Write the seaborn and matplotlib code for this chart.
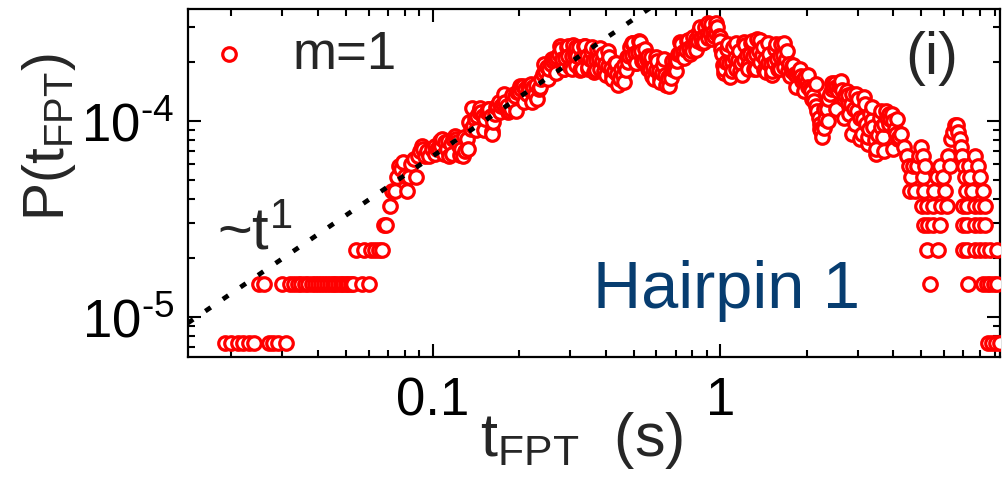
import numpy as np
import pandas as pd
import matplotlib
matplotlib.use("Agg")
import matplotlib.pyplot as plt
import seaborn as sns
from matplotlib.ticker import FixedLocator, LogLocator, NullFormatter, FuncFormatter

# First-passage-time histogram, hairpin 1, m = 1 (P in units of 1e-5)
t_short = [0.019, 0.020, 0.021, 0.022, 0.023, 0.024, 0.025, 0.026, 0.027, 0.028,
           0.029, 0.030, 0.031, 0.032, 0.033, 0.034, 0.035, 0.036, 0.037, 0.038,
           0.039, 0.040, 0.041, 0.042, 0.043, 0.044, 0.045, 0.046, 0.047, 0.048,
           0.049, 0.050, 0.051, 0.052, 0.053, 0.054, 0.057, 0.058, 0.060, 0.061,
           0.063, 0.065, 0.067]
p_short = [0.735, 0.735, 0.735, 0.735, 0.735, 0.735, 1.47, 1.47, 0.735, 0.735,
           0.735, 1.47, 0.735, 1.47, 1.47, 1.47, 1.47, 1.47, 1.47, 1.47,
           1.47, 1.47, 1.47, 1.47, 1.47, 1.47, 1.47, 1.47, 1.47, 1.47,
           1.47, 1.47, 1.47, 1.47, 1.47, 2.205, 1.47, 2.205, 1.47, 2.205,
           2.205, 2.205, 2.205]

t_rise = [0.068, 0.069, 0.0714, 0.0725, 0.0743, 0.0755, 0.0767, 0.0780, 0.0792, 0.0805,
          0.0818, 0.0831, 0.0845, 0.0859, 0.0873, 0.0887, 0.0901, 0.0916, 0.0930, 0.0945,
          0.0960, 0.0976, 0.0992, 0.1016, 0.1033, 0.1049, 0.1066, 0.1083, 0.1101, 0.1119,
          0.1137, 0.1155, 0.1174, 0.1193, 0.1212, 0.1232, 0.1252, 0.1272, 0.1292, 0.1313,
          0.1335, 0.1356, 0.1378, 0.1400, 0.1423, 0.1447, 0.1470, 0.1494, 0.1518, 0.1543,
          0.1568, 0.1593, 0.1606, 0.1619, 0.1645, 0.1672, 0.1699, 0.1727, 0.1755, 0.1783,
          0.1812, 0.1841, 0.1871, 0.1901, 0.1932, 0.1963, 0.1994, 0.2027, 0.2059, 0.2093,
          0.2127, 0.2160, 0.2196, 0.2231, 0.2268, 0.2304, 0.2340, 0.2379, 0.2418, 0.2457,
          0.2497, 0.2540, 0.2580, 0.2621, 0.2664, 0.2707, 0.2750]
p_rise = [2.94, 2.94, 3.68, 4.41, 4.41, 5.15, 5.88, 5.69, 6.17, 5.24,
          4.41, 5.15, 6.03, 6.40, 5.15, 6.62, 7.03, 7.45, 7.20, 6.62,
          7.03, 6.62, 7.20, 7.45, 7.20, 7.20, 7.45, 8.09, 7.81, 7.20,
          6.62, 7.63, 8.09, 8.38, 7.81, 7.45, 7.20, 6.62, 7.03, 8.09,
          9.87, 9.10, 9.44, 10.2, 10.6, 11.1, 11.1, 10.6, 10.2, 11.1,
          11.5, 10.6, 8.58, 9.87, 10.9, 11.9, 12.5, 11.9, 12.2, 12.5,
          11.9, 11.2, 11.5, 12.5, 13.4, 14.0, 14.0, 14.6, 15.1, 14.6,
          13.7, 14.6, 15.4, 14.9, 13.7, 12.9, 14.6, 16.4, 17.4, 18.0,
          18.8, 18.4, 19.5, 20.2, 20.7, 21.2, 22.0]

# plateau and decay: outer readings of the band
t_plateau = [0.2795, 0.2862, 0.2932, 0.3004, 0.3077, 0.3152, 0.3230, 0.3309, 0.3389, 0.3472,
             0.3557, 0.3643, 0.3732, 0.3821, 0.3914, 0.4009, 0.4110, 0.4210, 0.4313, 0.4418,
             0.4522, 0.4632, 0.4745, 0.4859, 0.4977, 0.5099, 0.5220, 0.5347, 0.5477, 0.5611,
             0.5752, 0.5891, 0.6035, 0.6180, 0.6330, 0.6484, 0.6640, 0.6802, 0.6967, 0.7137,
             0.7317, 0.7494, 0.7677, 0.7863, 0.8054, 0.8251, 0.8450, 0.8656, 0.8866, 0.9083,
             0.9298, 0.9524, 0.9757, 1.000, 1.016, 1.033, 1.058, 1.083, 1.109, 1.136,
             1.164, 1.192, 1.221, 1.251, 1.281, 1.313, 1.345, 1.378, 1.412, 1.446,
             1.481, 1.517, 1.554, 1.592, 1.631, 1.671, 1.711, 1.752, 1.795, 1.838,
             1.884, 1.930, 1.977, 2.025, 2.073, 2.123, 2.175, 2.228, 2.264, 2.319,
             2.376, 2.439, 2.498, 2.559, 2.621, 2.685, 2.750, 2.810, 2.879, 2.949,
             3.020, 3.099, 3.175, 3.252, 3.327, 3.408, 3.491, 3.580, 3.667, 3.756,
             3.848, 3.943, 4.039, 4.137, 4.244]
p_plateau = [23.3, 18.4, 23.9, 18.8, 24.4, 19.3, 23.9, 18.4, 24.1, 18.8,
             22.8, 17.7, 23.3, 18.4, 22.0, 17.1, 21.2, 16.4, 19.7, 15.3,
             18.4, 15.7, 21.2, 23.9, 25.0, 19.7, 25.6, 20.3, 23.3, 18.4,
             21.2, 16.4, 20.2, 15.8, 19.3, 15.3, 15.0, 18.4, 20.2, 22.0,
             24.7, 21.0, 25.6, 22.0, 26.8, 23.0, 28.8, 25.0, 30.2, 26.5,
             31.3, 27.0, 30.2, 26.8, 22.0, 17.5, 23.3, 16.8, 23.9, 18.4,
             22.8, 17.1, 24.4, 19.3, 25.0, 18.4, 26.2, 20.0, 23.9, 17.7,
             22.0, 17.1, 23.3, 18.4, 24.7, 18.8, 22.8, 17.0, 19.3, 17.2,
             18.0, 16.0, 16.8, 14.9, 14.25, 12.6, 11.2, 9.65, 8.29, 10.2,
             12.9, 14.6, 15.6, 14.25, 16.0, 12.9, 14.25, 10.9, 13.7, 9.65,
             12.9, 8.58, 12.2, 7.63, 10.9, 9.32, 6.79, 10.4, 8.29, 11.2,
             9.65, 10.9, 9.10, 8.09, 8.58]

# plateau and decay: inner readings of the band
t_band = [0.2829, 0.2897, 0.2968, 0.3041, 0.3115, 0.3190, 0.3269, 0.3349, 0.3430, 0.3514,
          0.3600, 0.3687, 0.3778, 0.3868, 0.3962, 0.4058, 0.4160, 0.4261, 0.4366, 0.4472,
          0.4577, 0.4689, 0.4803, 0.4918, 0.5038, 0.5161, 0.5284, 0.5412, 0.5544, 0.5679,
          0.5822, 0.5963, 0.6109, 0.6255, 0.6407, 0.6563, 0.6721, 0.6885, 0.7052, 0.7224,
          0.7406, 0.7585, 0.7771, 0.7959, 0.8152, 0.8352, 0.8553, 0.8762, 0.8974, 0.9194,
          0.9411, 0.9640, 0.9876, 1.008, 1.025, 1.045, 1.071, 1.096, 1.123, 1.150,
          1.178, 1.207, 1.236, 1.266, 1.297, 1.329, 1.361, 1.395, 1.429, 1.464,
          1.499, 1.536, 1.573, 1.611, 1.651, 1.691, 1.732, 1.773, 1.817, 1.860,
          1.907, 1.954, 2.001, 2.050, 2.098, 2.149, 2.202, 2.246, 2.291, 2.347,
          2.405, 2.469, 2.528, 2.590, 2.653, 2.718, 2.784, 2.844, 2.914, 2.985,
          3.057, 3.137, 3.214, 3.292, 3.368, 3.450, 3.534, 3.624, 3.712, 3.802,
          3.895, 3.991, 4.088, 4.187]
p_band = [20.8, 21.0, 21.3, 21.5, 21.8, 21.5, 21.0, 21.3, 21.5, 20.8,
          20.2, 20.5, 20.8, 20.2, 19.6, 19.1, 18.6, 18.0, 17.4, 16.8,
          17.2, 18.2, 21.5, 21.8, 22.3, 22.5, 22.8, 20.2, 20.8, 18.4,
          18.8, 18.2, 18.0, 17.6, 17.2, 16.8, 16.6, 18.4, 20.2, 22.3,
          22.5, 23.0, 23.6, 24.1, 24.7, 25.6, 26.5, 27.1, 27.8, 28.2,
          28.5, 28.2, 27.1, 23.3, 19.3, 20.0, 19.8, 20.0, 21.0, 20.5,
          19.8, 20.5, 21.8, 22.0, 21.5, 22.0, 22.8, 21.8, 20.8, 19.8,
          19.6, 20.0, 20.8, 21.3, 21.8, 20.8, 19.6, 18.0, 17.4, 17.6,
          17.0, 16.4, 15.8, 14.6, 13.4, 11.9, 10.4, 8.9, 9.2, 11.5,
          13.7, 15.0, 14.9, 15.0, 14.4, 13.5, 12.4, 12.2, 11.5, 11.2,
          10.4, 10.2, 9.65, 9.10, 10.1, 8.0, 8.48, 9.3, 9.65, 10.4,
          10.2, 9.98, 8.58, 8.29]

# rise, plateau and decay: readings along the band edges
t_edge = [0.1024, 0.1058, 0.1092, 0.1128, 0.1165, 0.1203, 0.1242, 0.1282, 0.1324, 0.1367,
          0.1412, 0.1458, 0.1505, 0.1554, 0.1605, 0.1657, 0.1711, 0.1767, 0.1825, 0.1884,
          0.1945, 0.2009, 0.2074, 0.2142, 0.2212, 0.2284, 0.2358, 0.2435, 0.2514, 0.2596,
          0.2681, 0.2768, 0.2858, 0.2952, 0.3048, 0.3147, 0.3250, 0.3356, 0.3465, 0.3578,
          0.3695, 0.3815, 0.3939, 0.4068, 0.4200, 0.4337, 0.4479, 0.4625, 0.4775, 0.4931,
          0.5092, 0.5258, 0.5429, 0.5606, 0.5789, 0.5978, 0.6172, 0.6374, 0.6581, 0.6796,
          0.7017, 0.7246, 0.7482, 0.7726, 0.7978, 0.8238, 0.8506, 0.8783, 0.9070, 0.9366,
          0.9671, 1.000, 1.033, 1.066, 1.101, 1.137, 1.174, 1.212, 1.252, 1.292,
          1.334, 1.378, 1.423, 1.469, 1.517, 1.566, 1.617, 1.670, 1.724, 1.780,
          1.838, 1.898, 1.960, 2.024, 2.090, 2.158, 2.228, 2.301, 2.376, 2.453,
          2.533, 2.616, 2.701, 2.789, 2.880, 2.974, 3.071, 3.171, 3.274, 3.381,
          3.491, 3.605, 3.722, 3.844, 3.969, 4.098]
p_edge = [6.79, 7.90, 6.79, 7.90, 6.79, 8.09, 6.71, 8.29, 7.20, 11.7,
          8.99, 11.7, 8.99, 11.5, 8.88, 11.8, 11.1, 13.7, 11.1, 13.6,
          11.2, 15.1, 12.5, 15.1, 12.5, 15.3, 14.9, 19.5, 16.4, 20.7,
          17.6, 24.1, 18.4, 24.1, 18.4, 23.9, 18.2, 24.1, 18.4, 23.9,
          18.2, 23.6, 18.0, 22.8, 17.2, 19.7, 16.4, 19.3, 20.0, 25.0,
          19.7, 25.2, 20.2, 21.5, 17.0, 21.2, 16.6, 20.7, 16.4, 20.2,
          18.0, 25.2, 21.2, 25.9, 22.8, 26.2, 30.2, 25.2, 31.6, 26.2,
          31.6, 25.6, 18.4, 24.7, 18.0, 25.0, 18.0, 25.2, 18.4, 25.6,
          18.4, 25.9, 18.2, 25.0, 18.0, 24.7, 18.4, 25.0, 18.0, 19.0,
          14.9, 18.4, 14.25, 17.2, 12.9, 15.4, 9.10, 11.5, 10.0, 15.6,
          11.5, 15.3, 10.4, 13.6, 8.58, 13.7, 8.09, 13.2, 8.29, 11.8,
          7.20, 11.2, 7.03, 10.9, 7.20, 10.2]

t_tail = [4.347, 4.453, 4.52, 4.56, 4.60, 4.67, 4.75, 4.83, 4.89, 4.97,
          5.01, 5.05, 5.06, 5.09, 5.10, 5.13, 5.21, 5.22, 5.26, 5.35,
          5.48, 5.49, 5.52, 5.66, 5.70, 5.80, 5.81, 5.85, 5.94, 6.03,
          6.13, 6.18, 6.28, 6.33, 6.43, 6.53, 6.65, 6.70, 6.81, 6.87,
          6.92, 6.98, 6.99, 7.00, 7.03, 7.09, 7.15, 7.20, 7.21, 7.22,
          7.26, 7.32, 7.38, 7.50, 7.68, 7.69, 7.70, 7.71, 7.86, 7.98,
          7.99, 8.00, 8.01, 8.18, 8.19, 8.31, 8.32, 8.33, 8.45, 8.52,
          8.65, 8.66, 8.79, 8.93, 9.07, 9.14, 9.15, 9.36]
p_tail = [7.35, 6.62, 5.88, 4.41, 5.15, 5.88, 4.41, 5.88, 6.62, 7.35,
          3.675, 6.62, 5.15, 4.41, 2.94, 5.88, 2.205, 3.675, 2.94, 1.47,
          2.94, 3.675, 4.41, 5.15, 2.205, 5.88, 2.94, 3.675, 5.15, 4.41,
          3.675, 6.62, 5.88, 8.09, 8.82, 9.555, 9.555, 8.82, 8.09, 7.35,
          6.62, 3.675, 2.94, 2.205, 5.88, 5.15, 4.41, 3.675, 2.94, 2.205,
          1.47, 5.88, 5.15, 4.41, 6.62, 3.675, 2.94, 2.205, 5.88, 5.15,
          3.675, 2.94, 2.205, 4.41, 1.47, 3.675, 2.94, 2.205, 1.47, 0.735,
          2.205, 1.47, 0.735, 1.47, 0.735, 2.205, 1.47, 0.735]

# ~t^1 guide line
guide_t = [0.0141, 0.62]
guide_amp = 6.6e-4
guide_exp = 1.0

x_ticks = [0.1, 1]
x_tick_labels = ["0.1", "1"]
y_ticks = [1e-5, 1e-4]

df = pd.DataFrame({
    "t": np.concatenate([t_short, t_rise, t_plateau, t_band, t_edge, t_tail]),
    "p": np.concatenate([p_short, p_rise, p_plateau, p_band, p_edge, p_tail]) * 1e-5,
}).sort_values("t", kind="stable")

sns.set_theme(style="ticks")
plt.rcParams["font.family"] = ["Liberation Sans", "DejaVu Sans"]
plt.rcParams["mathtext.fontset"] = "custom"
plt.rcParams["mathtext.rm"] = "Liberation Sans"
plt.rcParams["mathtext.it"] = "Liberation Sans:italic"
plt.rcParams["mathtext.bf"] = "Liberation Sans:bold"
plt.rcParams["axes.unicode_minus"] = False

fig = plt.figure(figsize=(10.08, 4.81), dpi=100)
ax = fig.add_axes([188 / 1008, 123 / 481, 812 / 1008, 348 / 481])

sns.scatterplot(data=df, x="t", y="p", ax=ax, marker="o", s=95,
                color="white", edgecolor="#ff0000", linewidth=2.3,
                label="m=1", zorder=3)

gt = np.array(guide_t)
ax.plot(gt, guide_amp * gt ** guide_exp, color="black", lw=3.4,
        linestyle=(0, (1.4, 3.1)), dash_capstyle="butt", zorder=4)

ax.set_xscale("log")
ax.set_yscale("log")
ax.set_xlim(0.01413, 9.38)
ax.set_ylim(6.25e-6, 3.72e-4)

ax.xaxis.set_major_locator(FixedLocator(x_ticks))
ax.xaxis.set_major_formatter(FuncFormatter(
    lambda v, pos: x_tick_labels[pos] if pos is not None and pos < len(x_tick_labels) else ""))
ax.xaxis.set_minor_locator(LogLocator(base=10, subs=np.arange(2, 10), numticks=30))
ax.xaxis.set_minor_formatter(NullFormatter())
ax.yaxis.set_major_locator(FixedLocator(y_ticks))
ax.yaxis.set_major_formatter(FuncFormatter(
    lambda v, pos: "$\\mathregular{10^{\u2010%d}}$" % abs(round(np.log10(v)))))
ax.yaxis.set_minor_locator(LogLocator(base=10, subs=np.arange(2, 10), numticks=30))
ax.yaxis.set_minor_formatter(NullFormatter())

for sp in ax.spines.values():
    sp.set_visible(True)
    sp.set_linewidth(1.6)
    sp.set_color("black")
ax.tick_params(which="both", direction="in", top=True, right=True,
               width=1.5, color="black", labelcolor="black")
ax.tick_params(which="major", length=9.5, labelsize=38)
ax.tick_params(which="minor", length=5)
ax.tick_params(axis="x", pad=13)
ax.tick_params(axis="y", pad=10)

ax.set_xlabel("t$_{\\mathregular{FPT}}$  (s)", fontsize=44)
ax.set_ylabel(r"P(t$_{\mathregular{FPT}}$)", fontsize=41)
ax.xaxis.set_label_coords(0.485, -0.148)
ax.yaxis.set_label_coords(-0.135, 0.635)

ax.legend(loc="center left", bbox_to_anchor=(0.018, 0.871), frameon=False,
          fontsize=38, handlelength=1.0, handletextpad=0.7, borderpad=0,
          borderaxespad=0, scatterpoints=1)

ax.text(0.916, 0.862, "(i)", transform=ax.transAxes, ha="center", va="center", fontsize=43)
ax.text(0.0357, 0.31, r"~t$^{\mathregular{1}}$", transform=ax.transAxes,
        ha="left", va="baseline", fontsize=43)
ax.text(0.6626, 0.1437, "Hairpin 1", transform=ax.transAxes, ha="center",
        va="baseline", fontsize=48, color="#073d70")

fig.savefig("out.png", dpi=100)
